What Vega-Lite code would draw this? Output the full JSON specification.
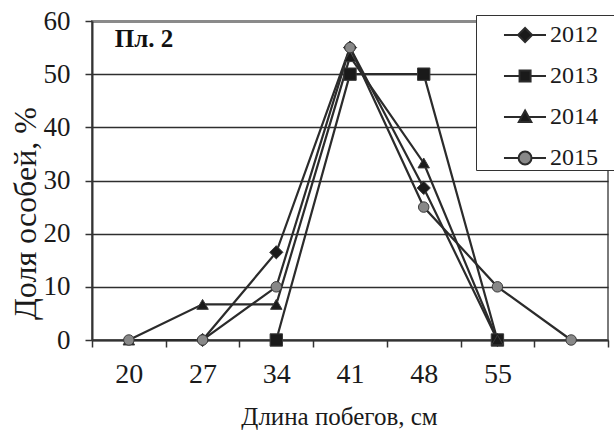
{
  "$schema": "https://vega.github.io/schema/vega-lite/v6.json",
  "width": 516,
  "height": 319,
  "autosize": "none",
  "padding": {"left": 92, "top": 21, "right": 6, "bottom": 90},
  "background": "white",
  "config": {
    "view": {"stroke": "#7a7a7a", "strokeWidth": 2},
    "font": "Liberation Serif"
  },
  "datasets": {
    "series": [
      {"year": "2012", "len": 27, "pct": 0},
      {"year": "2012", "len": 34, "pct": 16.5},
      {"year": "2012", "len": 41, "pct": 55},
      {"year": "2012", "len": 48, "pct": 28.6},
      {"year": "2012", "len": 55, "pct": 0},
      {"year": "2013", "len": 34, "pct": 0},
      {"year": "2013", "len": 41, "pct": 50},
      {"year": "2013", "len": 48, "pct": 50},
      {"year": "2013", "len": 55, "pct": 0},
      {"year": "2014", "len": 20, "pct": 0},
      {"year": "2014", "len": 27, "pct": 6.7},
      {"year": "2014", "len": 34, "pct": 6.7},
      {"year": "2014", "len": 41, "pct": 53.3},
      {"year": "2014", "len": 48, "pct": 33.3},
      {"year": "2014", "len": 55, "pct": 0},
      {"year": "2015", "len": 20, "pct": 0},
      {"year": "2015", "len": 27, "pct": 0},
      {"year": "2015", "len": 34, "pct": 10},
      {"year": "2015", "len": 41, "pct": 55},
      {"year": "2015", "len": 48, "pct": 25},
      {"year": "2015", "len": 55, "pct": 10},
      {"year": "2015", "len": 62, "pct": 0}
    ],
    "label": [
      {"len": 20, "pct": 56.6, "label": "Пл. 2"}
    ]
  },
  "resolve": {"scale": {"shape": "independent", "fill": "independent", "size": "independent"}},
  "layer": [
    {
      "data": {"name": "series"},
      "mark": {"type": "line", "color": "#2b2b2b", "strokeWidth": 2.2},
      "encoding": {
        "x": {
          "field": "len",
          "type": "ordinal",
          "scale": {"type": "band", "paddingInner": 0, "paddingOuter": 0},
          "axis": {
            "title": "Длина побегов, см",
            "labelExpr": "datum.value == 62 ? '' : datum.label",
            "tickBand": "extent",
            "labelAngle": 0,
            "labelFontSize": 28,
            "labelColor": "#1a1a1a",
            "labelPadding": 13,
            "tickSize": 7,
            "tickColor": "#333",
            "tickWidth": 1.5,
            "domainColor": "#333",
            "domainWidth": 2,
            "grid": false,
            "titleFontSize": 25,
            "titleFontWeight": "normal",
            "titleColor": "#1a1a1a",
            "titleX": 247,
            "titleY": 84,
            "titleBaseline": "alphabetic",
            "titleAlign": "center"
          }
        },
        "y": {
          "field": "pct",
          "type": "quantitative",
          "scale": {"domain": [0, 60], "nice": false},
          "axis": {
            "title": "Доля особей, %",
            "values": [0, 10, 20, 30, 40, 50, 60],
            "labelFontSize": 27,
            "labelColor": "#1a1a1a",
            "labelPadding": 15,
            "tickSize": 7,
            "tickColor": "#333",
            "tickWidth": 1.5,
            "grid": true,
            "gridColor": {"condition": {"test": "datum.value == 60", "value": "#8a8a8a"}, "value": "#2e2e2e"},
            "gridWidth": {"condition": {"test": "datum.value == 60", "value": 3}, "value": 1.5},
            "gridOpacity": 1,
            "domainColor": "#333",
            "domainWidth": 2,
            "titleFontSize": 32,
            "titleFontWeight": "normal",
            "titleColor": "#1a1a1a",
            "titleX": -67,
            "titleY": 192,
            "titleAngle": -90,
            "titleBaseline": "middle",
            "titleAlign": "center"
          }
        },
        "detail": {"field": "year", "type": "nominal"}
      }
    },
    {
      "data": {"name": "series"},
      "mark": {"type": "point", "filled": true, "opacity": 1, "stroke": "#3a3a3a", "strokeWidth": 1},
      "encoding": {
        "x": {"field": "len", "type": "ordinal"},
        "y": {"field": "pct", "type": "quantitative"},
        "shape": {
          "field": "year",
          "type": "nominal",
          "scale": {"domain": ["2012", "2013", "2014", "2015"], "range": ["diamond", "square", "triangle-up", "circle"]},
          "legend": null
        },
        "fill": {
          "field": "year",
          "type": "nominal",
          "scale": {"domain": ["2012", "2013", "2014", "2015"], "range": ["#1a1a1a", "#1a1a1a", "#1a1a1a", "#888888"]},
          "legend": null
        },
        "size": {
          "field": "year",
          "type": "ordinal",
          "scale": {"domain": ["2012", "2013", "2014", "2015"], "range": [175, 110, 120, 160]},
          "legend": null
        }
      }
    },
    {
      "data": {"name": "series"},
      "mark": {"type": "point", "filled": true, "opacity": 0, "stroke": "#2b2b2b", "strokeWidth": 2},
      "encoding": {
        "x": {"field": "len", "type": "ordinal"},
        "y": {"field": "pct", "type": "quantitative"},
        "shape": {
          "field": "year",
          "type": "nominal",
          "scale": {"domain": ["2012", "2013", "2014", "2015"], "range": [
            "M0.42,0H1.16M1.9,0H2.63M1.53,-0.37L1.9,0L1.53,0.37L1.16,0Z",
            "M0.42,0H1.24M1.82,0H2.63M1.24,-0.29H1.82V0.29H1.24Z",
            "M0.42,0H1.35M1.71,0H2.63M1.53,-0.34L1.86,0.26H1.2Z",
            "M0.42,0H1.19M1.87,0H2.63M1.19,0A0.34,0.34 0 1,0 1.87,0A0.34,0.34 0 1,0 1.19,0Z"
          ]},
          "legend": {
            "title": "——",
            "titleColor": "white",
            "titleOrient": "right",
            "titlePadding": 2,
            "titleFontSize": 12,
            "orient": "none",
            "legendX": 384,
            "legendY": -6,
            "padding": 0,
            "rowPadding": 9,
            "labelOffset": 34,
            "labelFontSize": 24,
            "labelFont": "Liberation Serif",
            "labelColor": "#1a1a1a",
            "fillColor": "white",
            "strokeColor": "#333",
            "symbolSize": 1444,
            "symbolOpacity": 1,
            "symbolStrokeWidth": 2
          }
        },
        "fill": {
          "field": "year",
          "type": "nominal",
          "scale": {"domain": ["2012", "2013", "2014", "2015"], "range": ["#1a1a1a", "#1a1a1a", "#1a1a1a", "#888888"]},
          "legend": {
            "title": "——",
            "titleColor": "white",
            "titleOrient": "right",
            "titlePadding": 2,
            "titleFontSize": 12,
            "orient": "none",
            "legendX": 384,
            "legendY": -6,
            "padding": 0,
            "rowPadding": 9,
            "labelOffset": 34,
            "labelFontSize": 24,
            "labelFont": "Liberation Serif",
            "labelColor": "#1a1a1a",
            "fillColor": "white",
            "strokeColor": "#333",
            "symbolSize": 1444,
            "symbolOpacity": 1,
            "symbolStrokeWidth": 2
          }
        }
      }
    },
    {
      "data": {"name": "label"},
      "mark": {"type": "text", "align": "left", "baseline": "middle", "dx": -14, "fontSize": 25, "fontWeight": "bold", "font": "Liberation Serif", "color": "#111"},
      "encoding": {
        "x": {"field": "len", "type": "ordinal"},
        "y": {"field": "pct", "type": "quantitative"},
        "text": {"field": "label"}
      }
    }
  ]
}
